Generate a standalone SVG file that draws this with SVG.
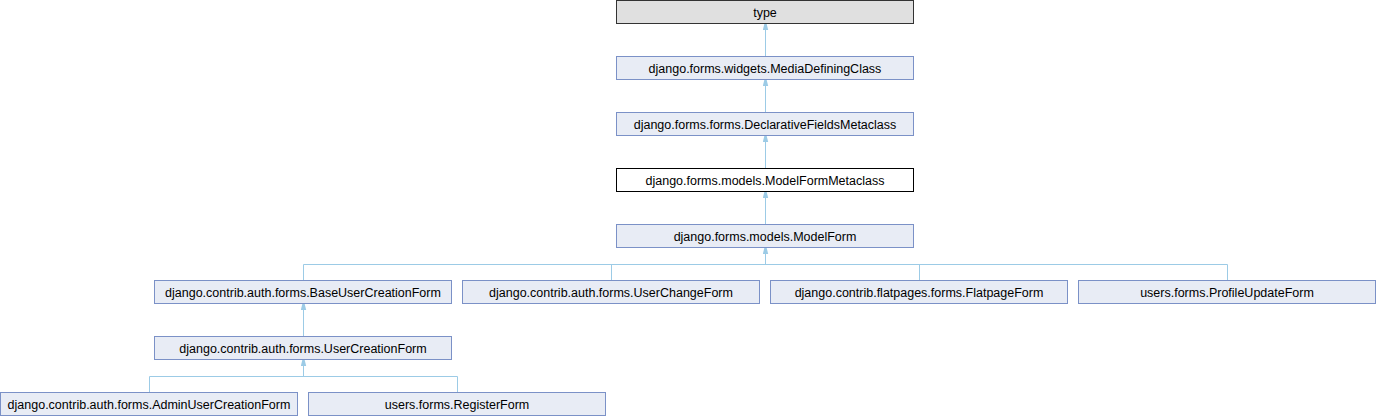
<svg xmlns="http://www.w3.org/2000/svg" width="1376" height="416" viewBox="0 0 1376 416">
<style>
.n rect{fill:#e8ecf5;stroke:#7b91c7;stroke-width:1}
.n text{font-family:"Liberation Sans",Arial,sans-serif;font-size:12.5px;fill:#000;text-anchor:middle}
#n_type rect{fill:#e0e0e0;stroke:#333}
#n_mfm rect{fill:#fff;stroke:#000}
.e{fill:none;stroke:#9ccbe6;stroke-width:1}
</style>
<defs>
<marker id="ah" viewBox="0 0 6 6" refX="6" refY="3" markerWidth="6" markerHeight="6" orient="auto" markerUnits="userSpaceOnUse">
<path d="M0,0.3 L6,1.8 L6,4.2 L0,5.7 z" fill="#9ccbe6"/>
</marker>
</defs>
<rect width="1376" height="416" fill="#fff"/>
<g id="edges">
<path class="e" d="M765.5,56.5 V24" marker-end="url(#ah)"/>
<path class="e" d="M765.5,112.5 V80" marker-end="url(#ah)"/>
<path class="e" d="M765.5,168.5 V136" marker-end="url(#ah)"/>
<path class="e" d="M765.5,224.5 V192" marker-end="url(#ah)"/>
<path class="e" d="M303.5,280.5 V264.5 H1227.5 V280.5 M611.5,280.5 V264.5 M919.5,280.5 V264.5"/>
<path class="e" d="M765.5,264.5 V248" marker-end="url(#ah)"/>
<path class="e" d="M303.5,336.5 V304" marker-end="url(#ah)"/>
<path class="e" d="M149.5,392.5 V376.5 H457.5 V392.5"/>
<path class="e" d="M303.5,376.5 V360" marker-end="url(#ah)"/>
</g>
<g id="n_type" class="n"><rect x="616.5" y="0.5" width="297" height="23"/><text x="765" y="16.5">type</text></g>
<g id="n_mdc" class="n"><rect x="616.5" y="56.5" width="297" height="23"/><text x="765" y="72.5">django.forms.widgets.MediaDefiningClass</text></g>
<g id="n_dfm" class="n"><rect x="616.5" y="112.5" width="297" height="23"/><text x="765" y="128.5">django.forms.forms.DeclarativeFieldsMetaclass</text></g>
<g id="n_mfm" class="n"><rect x="616.5" y="168.5" width="297" height="23"/><text x="765" y="184.5">django.forms.models.ModelFormMetaclass</text></g>
<g id="n_mf" class="n"><rect x="616.5" y="224.5" width="297" height="23"/><text x="765" y="240.5">django.forms.models.ModelForm</text></g>
<g id="n_bucf" class="n"><rect x="154.5" y="280.5" width="297" height="23"/><text x="303" y="296.5">django.contrib.auth.forms.BaseUserCreationForm</text></g>
<g id="n_ucf" class="n"><rect x="462.5" y="280.5" width="297" height="23"/><text x="611" y="296.5">django.contrib.auth.forms.UserChangeForm</text></g>
<g id="n_fpf" class="n"><rect x="770.5" y="280.5" width="297" height="23"/><text x="919" y="296.5">django.contrib.flatpages.forms.FlatpageForm</text></g>
<g id="n_puf" class="n"><rect x="1078.5" y="280.5" width="297" height="23"/><text x="1227" y="296.5">users.forms.ProfileUpdateForm</text></g>
<g id="n_ucrf" class="n"><rect x="154.5" y="336.5" width="297" height="23"/><text x="303" y="352.5">django.contrib.auth.forms.UserCreationForm</text></g>
<g id="n_aucf" class="n"><rect x="0.5" y="392.5" width="297" height="23"/><text x="149" y="408.5">django.contrib.auth.forms.AdminUserCreationForm</text></g>
<g id="n_rf" class="n"><rect x="308.5" y="392.5" width="297" height="23"/><text x="457" y="408.5">users.forms.RegisterForm</text></g>
</svg>
